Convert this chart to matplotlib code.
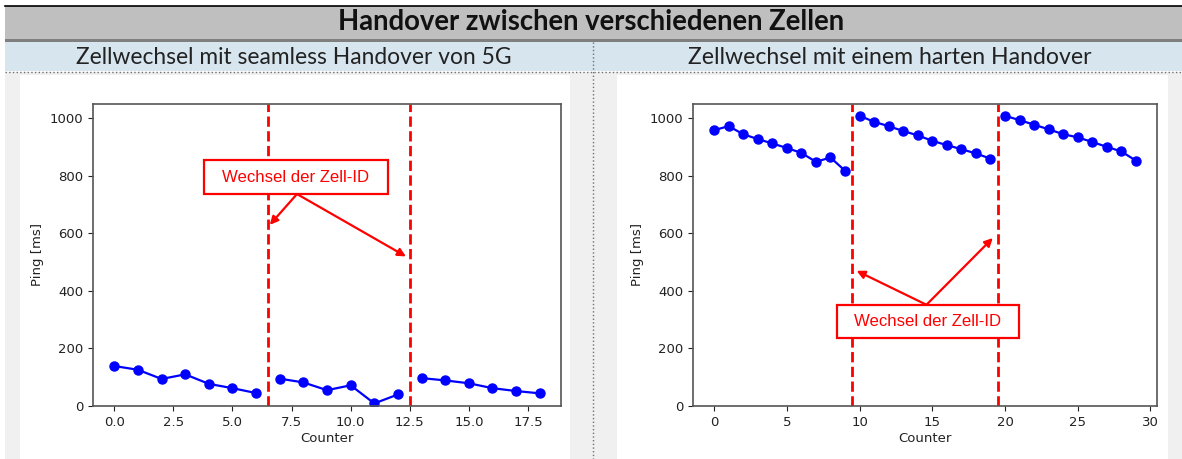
import matplotlib
matplotlib.use("Agg")
import matplotlib.pyplot as plt
from matplotlib.patches import Rectangle

W, H = 1182, 459

# texts
title = "Handover zwischen verschiedenen Zellen"
left_title = "Zellwechsel mit seamless Handover von 5G"
right_title = "Zellwechsel mit einem harten Handover"
note = "Wechsel der Zell-ID"

# left plot: seamless handover (5G)
ping_5g = [139, 126, 94, 110, 77, 62, 45, 95, 82, 55, 72, 9, 40,
           97, 89, 79, 62, 52, 44]
switch_5g = [6.5, 12.5]

# right plot: hard handover
ping_hard = [959, 973, 945, 928, 913, 897, 880, 849, 864, 818,
             1009, 988, 973, 956, 941, 922, 907, 893, 878, 860,
             1009, 994, 978, 962, 945, 934, 918, 901, 885, 853]
switch_hard = [9.5, 19.5]

# annotation box (x0, x1, y0, y1), arrow start, arrow targets
box_5g = (3.79, 11.58, 737, 855)
arrow_5g = (7.73, 737)
targets_5g = [(6.58, 630), (12.34, 520)]

box_hard = (8.45, 20.95, 236, 350)
arrow_hard = (14.6, 352)
targets_hard = [(9.8, 470), (19.16, 584)]

fig = plt.figure(figsize=(W / 100, H / 100), dpi=100)

# background / header drawn in pixel coords
bg = fig.add_axes([0, 0, 1, 1], zorder=-1)
bg.set_xlim(0, W)
bg.set_ylim(H, 0)
bg.axis("off")

bg.add_patch(Rectangle((5, 72), W - 5, H - 72, fc="#f0f0f0", ec="none"))
bg.add_patch(Rectangle((20, 75), 550, H - 75, fc="white", ec="none"))
bg.add_patch(Rectangle((617, 75), 551, H - 75, fc="white", ec="none"))
bg.add_patch(Rectangle((5, 6), W - 5, 34, fc="#bfbfbf", ec="none"))
bg.add_patch(Rectangle((5, 39), W - 5, 3, fc="#7f7f7f", ec="none"))
bg.add_patch(Rectangle((5, 42), W - 5, 29, fc="#d6e5ee", ec="none"))
bg.plot([5, W], [6, 6], color="black", lw=1.2)
bg.plot([5, W], [71.5, 71.5], color="#707070", lw=1, ls=":")
bg.plot([593, 593], [42, H], color="#707070", lw=1, ls=":")

t1 = bg.text(591, 22, title, ha="center", va="center", fontsize=18,
             family="Lato", weight="bold", color="#111111")
t2 = bg.text(294, 57, left_title, ha="center", va="center", fontsize=14,
             family="Lato", color="#222222")
t3 = bg.text(890, 57, right_title, ha="center", va="center", fontsize=14,
             family="Lato", color="#222222")

renderer = fig.canvas.get_renderer()


def fit(t, width):
    w = t.get_window_extent(renderer).width
    t.set_fontsize(t.get_fontsize() * width / w)


fit(t1, 508)
fit(t2, 434)
fit(t3, 404)


def panel(rect, ping, switches, box, start, targets):
    ax = fig.add_axes(rect)
    # one line per cell, broken at each cell change
    edges = [-1] + switches + [len(ping)]
    for a, b in zip(edges[:-1], edges[1:]):
        xs = [i for i in range(len(ping)) if a < i < b]
        ax.plot(xs, [ping[i] for i in xs], "o-", color="blue", lw=1.6, ms=6.5)
    for s in switches:
        ax.axvline(s, color="red", ls="--", lw=2)
    ax.set_ylim(0, 1050)
    ax.set_xlabel("Counter", fontsize=9.5, color="#222222", labelpad=2)
    ax.set_ylabel("Ping [ms]", fontsize=9.5, color="#222222")
    ax.tick_params(labelsize=9.5, colors="#222222")
    for sp in ax.spines.values():
        sp.set_color("#555555")
        sp.set_linewidth(1.2)

    x0, x1, y0, y1 = box
    ax.add_patch(Rectangle((x0, y0), x1 - x0, y1 - y0, fc="white",
                           ec="red", lw=1.6, zorder=5))
    t = ax.text((x0 + x1) / 2, (y0 + y1) / 2, note, ha="center", va="center",
                family="Liberation Sans", fontsize=11, color="red", zorder=6)
    fit(t, 147)
    for tx, ty in targets:
        ax.annotate("", xy=(tx, ty), xytext=start, zorder=6,
                    arrowprops=dict(arrowstyle="-|>", color="red", lw=1.6,
                                    mutation_scale=12, shrinkA=0, shrinkB=0))
    return ax


panel([93 / W, 1 - 406 / H, (561 - 93) / W, (406 - 104) / H],
      ping_5g, switch_5g, box_5g, arrow_5g, targets_5g)
panel([693 / W, 1 - 406 / H, (1157 - 693) / W, (406 - 104) / H],
      ping_hard, switch_hard, box_hard, arrow_hard, targets_hard)

fig.savefig("out.png", dpi=100)
